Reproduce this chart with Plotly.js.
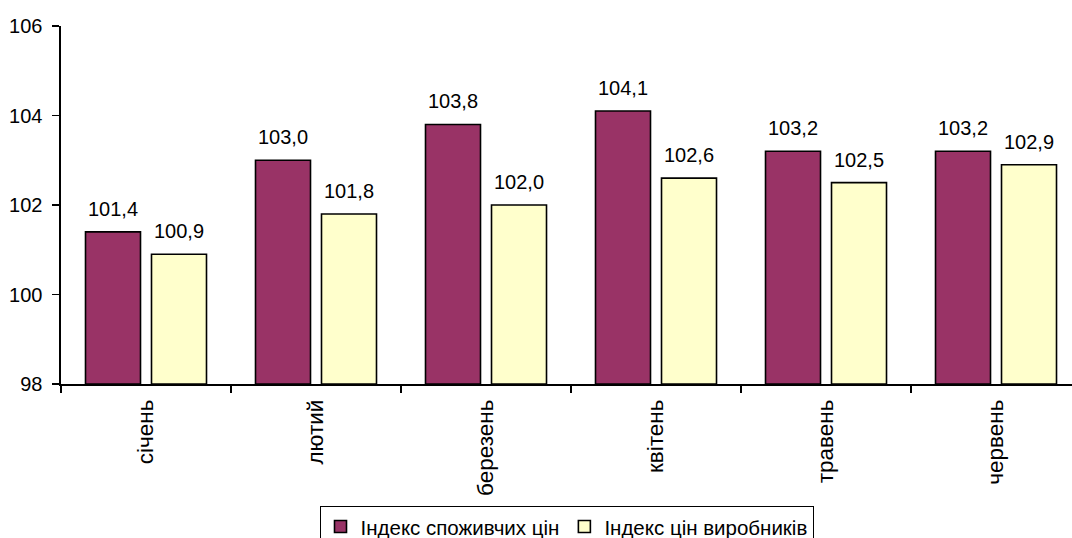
<!DOCTYPE html>
<html>
<head>
<meta charset="utf-8">
<script src="https://cdn.plot.ly/plotly-3.0.1.min.js"></script>
<style>html,body{margin:0;padding:0;background:#fff;}#chart{width:1072px;height:538px;}</style>
</head>
<body>
<div id="chart"></div>
<script>
const months = ["січень", "лютий", "березень", "квітень", "травень", "червень"];
const cpi = [101.4, 103.0, 103.8, 104.1, 103.2, 103.2];
const ppi = [100.9, 101.8, 102.0, 102.6, 102.5, 102.9];
const seriesNames = ["Індекс споживчих цін", "Індекс цін виробників"];
const yTicks = [98, 100, 102, 104, 106];
const yBase = 98;

const FONT = "Liberation Sans, Arial, sans-serif";
const fmt = v => v.toFixed(1).replace('.', ',');

const traces = [
  {type: 'bar', x: months, y: cpi.map(v => v - yBase), base: yBase, name: seriesNames[0],
   marker: {color: '#993366', line: {color: '#000', width: 1.6}}, hoverinfo: 'skip'},
  {type: 'bar', x: months, y: ppi.map(v => v - yBase), base: yBase, name: seriesNames[1],
   marker: {color: '#FFFFCC', line: {color: '#000', width: 1.6}}, hoverinfo: 'skip'}
];

const annotations = [];
[cpi, ppi].forEach((arr, si) => {
  arr.forEach((v, i) => {
    annotations.push({
      x: months[i], y: v, xref: 'x', yref: 'y',
      text: fmt(v), showarrow: false,
      xshift: si === 0 ? -33 : 33, yshift: 10, yanchor: 'bottom',
      font: {family: FONT, size: 20, color: '#000'}
    });
  });
});

const layout = {
  width: 1072, height: 538,
  margin: {l: 61, r: 0, t: 26, b: 154, pad: 0, autoexpand: false},
  paper_bgcolor: '#fff', plot_bgcolor: '#fff',
  font: {family: FONT, size: 20, color: '#000'},
  barmode: 'group', bargap: 0.2235, bargroupgap: 0.1667,
  showlegend: true,
  legend: {orientation: 'h', x: 0.5, xanchor: 'center', y: -0.34, yanchor: 'top',
           bordercolor: '#000', borderwidth: 1, font: {family: FONT, size: 20.5},
           itemwidth: 30, tracegroupgap: 0},
  xaxis: {type: 'category', range: [-0.5, 5.447], showline: true, linecolor: '#000', linewidth: 1.6,
          ticks: 'outside', tickson: 'boundaries', ticklen: 7, tickwidth: 1.6, tickcolor: '#000',
          tickangle: -90, showgrid: false, zeroline: false, fixedrange: true,
          ticklabelstandoff: 5,
          tickfont: {family: FONT, size: 22.5}},
  yaxis: {range: [98, 106], tickvals: yTicks, ticktext: yTicks.map(String),
          showline: true, linecolor: '#000', linewidth: 1.6,
          ticks: 'outside', ticklen: 7, tickwidth: 1.6, tickcolor: '#000',
          showgrid: false, zeroline: false, fixedrange: true, ticklabelstandoff: 6,
          tickfont: {family: FONT, size: 20}},
  annotations: annotations
};

Plotly.newPlot('chart', traces, layout, {staticPlot: true, displayModeBar: false});
</script>
</body>
</html>
